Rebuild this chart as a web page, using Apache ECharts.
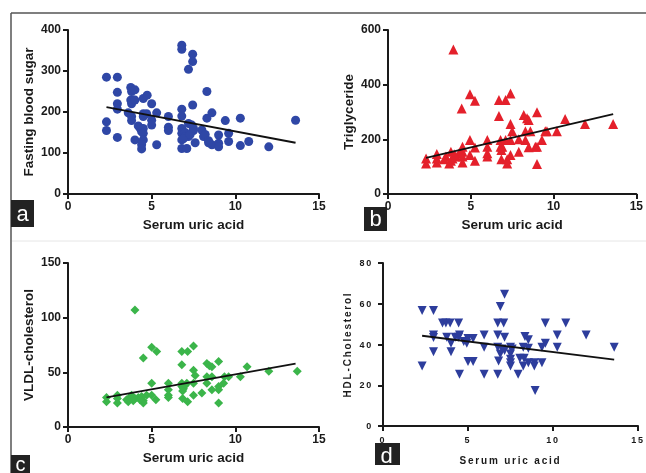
<!DOCTYPE html>
<html lang="en">
<head>
<meta charset="UTF-8">
<title>Serum uric acid correlations</title>
<script src="https://cdn.jsdelivr.net/npm/echarts@6/dist/echarts.min.js"></script>
<style>
  body { margin: 0; background: #fff; }
  #wrap { position: relative; width: 646px; height: 473px; overflow: hidden; }
  #chart { position: absolute; left: 0; top: 0; width: 646px; height: 473px; }
  #chartD { position: absolute; left: 330px; top: 245px; width: 316px; height: 228px; }
  #chartD text { letter-spacing: 1.8px; }
</style>
</head>
<body>
<div id="wrap">
  <div id="chart"></div>
  <div id="chartD"></div>
</div>
<script>
// values, [serum uric acid, measure]
const fbsPoints = [
  [2.3,285],[2.3,176],[2.3,155],[2.95,285],[2.95,248],[2.95,220],[2.95,207],[2.95,138],
  [3.6,198],[3.75,260],[3.8,250],[4.0,254],[3.75,229],[3.9,229],[3.8,220],[4.0,229],
  [3.8,189],[3.8,179],[4.0,132],[4.2,166],[4.3,161],[4.4,152],[4.5,160],[4.5,148],
  [4.5,196],[4.5,189],[4.5,233],[4.73,241],[4.5,132],[4.4,120],[4.4,110],[4.7,196],
  [5.0,220],[5.0,180],[5.0,168],[5.3,198],[5.3,120],[6.0,189],[6.0,163],[6.0,155],
  [6.8,363],[6.8,353],[6.8,207],[6.8,190],[6.8,160],[6.8,148],[6.8,132],[6.8,111],
  [7.1,111],[7.2,304],[7.45,341],[7.45,323],[7.45,217],[7.2,172],[7.4,168],
  [7.0,150],[7.2,140],[7.5,155],[7.6,125],[7.0,140],[6.9,135],[7.3,145],[7.5,160],
  [8.3,250],[8.3,185],[8.6,198],[8.0,156],[8.1,140],[8.2,145],[8.4,130],[8.6,120],
  [8.4,125],[9.0,144],[9.0,124],[9.0,115],[9.4,179],[9.6,148],[9.6,128],[10.3,185],
  [10.3,118],[10.8,128],[12.0,115],[13.6,180]
];
const tgPoints = [
  [3.95,529],[4.95,365],[5.25,341],[4.45,313],[6.7,344],[7.1,344],[7.4,368],[6.7,285],
  [7.4,256],[7.5,230],[8.2,289],[8.4,277],[8.5,271],[9.0,299],[10.7,274],[11.9,256],
  [13.6,256],[10.2,230],[9.5,230],[9.3,198],[9.0,173],[8.9,173],[8.5,171],[8.3,198],
  [8.3,230],[7.9,155],[7.9,200],[7.4,198],[7.4,143],[7.1,198],[6.9,173],[6.8,198],
  [6.8,173],[6.85,161],[6.85,127],[7.2,127],[7.2,112],[6.0,198],[6.0,173],[6.0,149],
  [6.0,137],[5.25,170],[5.25,122],[4.95,198],[4.95,143],[4.5,173],[4.5,155],[4.5,137],
  [4.5,115],[4.3,150],[4.1,137],[3.9,130],[3.8,155],[3.8,122],[3.7,112],[4.0,145],
  [3.5,137],[3.4,127],[2.95,146],[2.95,130],[2.95,115],[2.3,130],[2.3,112],[9.0,110],
  [9.6,230],[8.6,230]
];
const vldlPoints = [
  [4.0,107],[5.0,73],[5.3,69],[4.5,63],[6.8,69],[7.15,69],[7.5,74],[6.8,57],[8.3,58],
  [8.45,56],[8.6,55],[9.0,60],[10.7,55],[12.0,51],[13.7,51],[7.5,52],[7.6,47],[8.3,46],
  [8.6,46],[9.35,46],[9.6,46],[10.3,46],[5.0,40],[6.0,40],[6.0,34],[6.0,29],[6.0,27],
  [6.8,40],[6.8,37],[6.9,35],[7.0,38],[7.1,40],[6.85,33],[7.5,40],[8.3,40],[8.0,31],
  [7.5,29],[8.6,34],[9.0,37],[9.0,34],[9.0,22],[9.3,40],[6.85,26],[7.15,23],[5.25,25],
  [2.3,27],[2.3,23],[2.95,29],[2.95,26],[2.95,22],[3.5,25],[3.7,27],[3.8,29],[3.9,24],
  [4.0,26],[4.2,27],[4.4,28],[4.5,24],[4.5,22],[4.7,29],[5.0,29],[3.6,23],[4.3,25]
];
const hdlPoints = [
  [2.3,56.7],[2.3,29.5],[2.97,56.7],[2.97,44.7],[2.97,43.4],[2.97,36.5],[3.5,50.5],
  [3.7,50.5],[3.95,50.5],[4.45,50.5],[3.75,43.6],[4.0,40.6],[4.0,36.5],[4.25,43.6],
  [4.45,43.6],[4.5,44.7],[4.5,25.4],[4.75,41.5],[4.93,40.6],[5.0,43],[5.0,31.6],
  [5.3,31.6],[5.3,43],[5.95,44.7],[5.95,38.7],[5.95,25.4],[6.75,50.5],[7.1,50.5],
  [6.9,58.7],[7.15,64.7],[6.75,44.7],[7.15,43.6],[6.75,25.4],[6.75,38.7],[7.0,37.8],
  [7.15,37],[6.9,35.3],[6.8,31.9],[7.5,38.7],[7.5,35.3],[7.5,32.8],[7.5,31],[7.5,29.5],
  [7.6,37.8],[8.25,38.7],[8.35,43.9],[8.55,42.3],[8.55,38.2],[8.05,33.3],[8.3,33.3],
  [8.25,29.5],[8.55,31],[8.9,31],[9.35,31],[8.9,29.5],[7.95,25.4],[8.95,17.4],
  [9.35,38.7],[9.55,40.6],[9.55,50.5],[10.25,44.7],[10.25,38.7],[10.75,50.5],
  [11.95,44.7],[13.6,38.7]
];

// regression line end points
const fbsFit = [[2.3,212],[13.6,125]];
const tgFit = [[2.3,132],[13.6,292]];
const vldlFit = [[2.3,27],[13.6,58]];
const hdlFit = [[2.3,44.3],[13.6,32.6]];

const xRange = [0, 15, 5];
const fbsRange = [0, 400, 100];
const tgRange = [0, 600, 200];
const vldlRange = [0, 150, 50];
const hdlRange = [0, 80, 20];

const FONT = 'Liberation Sans, Arial, sans-serif';
const INK = '#1a1a1a';

function xAxisFor(gi, opts) {
  return {
    gridIndex: gi, type: 'value',
    min: xRange[0], max: xRange[1], interval: xRange[2],
    name: 'Serum uric acid', nameLocation: 'middle', nameGap: opts.nameGap,
    nameTextStyle: { fontFamily: FONT, fontWeight: 'bold', fontSize: opts.nameSize, color: INK },
    axisLine: { show: true, onZero: false, lineStyle: { color: INK, width: 2 } },
    axisTick: { show: true, length: 5, lineStyle: { color: INK, width: 2 } },
    axisLabel: { fontFamily: FONT, fontWeight: 'bold', fontSize: opts.labelSize, color: INK, margin: opts.margin },
    splitLine: { show: false }
  };
}

function yAxisFor(gi, range, name, opts) {
  return {
    gridIndex: gi, type: 'value',
    min: range[0], max: range[1], interval: range[2],
    name: name, nameLocation: 'middle', nameGap: opts.nameGap,
    nameTextStyle: { fontFamily: FONT, fontWeight: 'bold', fontSize: opts.nameSize, color: INK },
    axisLine: { show: true, onZero: false, lineStyle: { color: INK, width: 2 } },
    axisTick: { show: true, length: 5, lineStyle: { color: INK, width: 2 } },
    axisLabel: { fontFamily: FONT, fontWeight: 'bold', fontSize: opts.labelSize, color: INK, margin: opts.margin },
    splitLine: { show: false }
  };
}

function scatter(gi, data, symbol, size, color, rotate) {
  return {
    type: 'scatter', xAxisIndex: gi, yAxisIndex: gi, data: data,
    symbol: symbol, symbolSize: size, symbolRotate: rotate || 0,
    itemStyle: { color: color, opacity: 1 }, z: 2
  };
}

function fitLine(gi, data) {
  return {
    type: 'line', xAxisIndex: gi, yAxisIndex: gi, data: data,
    showSymbol: false, symbol: 'none', silent: true,
    lineStyle: { color: '#111', width: 1.8 }, z: 3
  };
}

function tag(x, y, w, h, letter, size) {
  return {
    type: 'group', x: x, y: y, z: 100,
    children: [
      { type: 'rect', shape: { x: 0, y: 0, width: w, height: h }, style: { fill: '#222' } },
      { type: 'text', x: w / 2, y: h / 2 + 1,
        style: { text: letter, fill: '#fff', font: size + 'px ' + FONT, align: 'center', verticalAlign: 'middle' } }
    ]
  };
}

const big = { nameSize: 13.5, labelSize: 12, margin: 7 };

const chart = echarts.init(document.getElementById('chart'));
chart.setOption({
  animation: false,
  backgroundColor: '#fff',
  grid: [
    { left: 68, top: 30, width: 251, height: 164 },
    { left: 388, top: 30, width: 251, height: 164 },
    { left: 68, top: 263, width: 251, height: 164 }
  ],
  xAxis: [
    xAxisFor(0, Object.assign({ nameGap: 24 }, big)),
    xAxisFor(1, Object.assign({ nameGap: 24 }, big)),
    xAxisFor(2, Object.assign({ nameGap: 24 }, big))
  ],
  yAxis: [
    yAxisFor(0, fbsRange, 'Fasting blood sugar', Object.assign({}, big, { nameGap: 32 })),
    yAxisFor(1, tgRange, 'Triglyceride', Object.assign({}, big, { nameGap: 32 })),
    yAxisFor(2, vldlRange, 'VLDL-cholesterol', Object.assign({}, big, { nameGap: 32 }))
  ],
  series: [
    scatter(0, fbsPoints, 'circle', 9, '#2f47a6'),
    fitLine(0, fbsFit),
    scatter(1, tgPoints, 'triangle', 10, '#e4202b'),
    fitLine(1, tgFit),
    scatter(2, vldlPoints, 'diamond', 9, '#3bb54a'),
    fitLine(2, vldlFit)
  ],
  graphic: [
    { type: 'line', shape: { x1: 11, y1: 13, x2: 646, y2: 13 }, style: { stroke: '#555', lineWidth: 1.5 } },
    { type: 'line', shape: { x1: 11, y1: 13, x2: 11, y2: 473 }, style: { stroke: '#555', lineWidth: 1.5 } },
    { type: 'line', shape: { x1: 12, y1: 241, x2: 646, y2: 241 }, style: { stroke: '#e6e6e6', lineWidth: 1 } },
    tag(11, 200, 23, 27, 'a', 22),
    tag(364, 207, 23, 24, 'b', 22),
    tag(11, 455, 19, 18, 'c', 20)
  ]
});

// panel d uses spaced lettering, so it gets its own svg chart
const small = { nameSize: 10, labelSize: 9, margin: 9 };
const chartD = echarts.init(document.getElementById('chartD'), null, { renderer: 'svg' });
chartD.setOption({
  animation: false,
  grid: [{ left: 53, top: 18, width: 255, height: 163 }],
  xAxis: [xAxisFor(0, Object.assign({}, small, { nameGap: 29 }))],
  yAxis: [yAxisFor(0, hdlRange, 'HDL-Cholesterol', Object.assign({}, small, { nameGap: 26, margin: 10 }))],
  series: [
    scatter(0, hdlPoints, 'triangle', 9, '#2d3d9c', 180),
    fitLine(0, hdlFit)
  ],
  graphic: [tag(45, 198, 25, 22, 'd', 22)]
});
</script>
</body>
</html>
